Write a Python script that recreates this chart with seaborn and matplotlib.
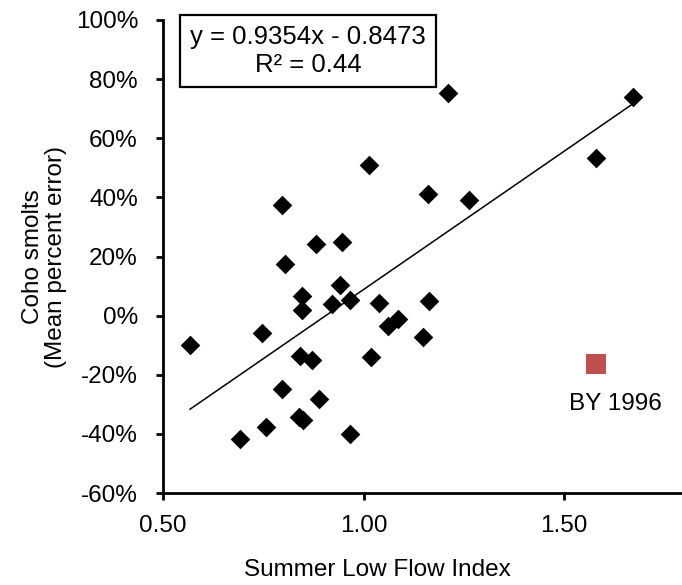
import matplotlib
matplotlib.use("Agg")
import matplotlib.pyplot as plt
import seaborn as sns
import numpy as np
import pandas as pd
from matplotlib.ticker import PercentFormatter, FixedLocator

# ---- data ----
flow_index = [1.014, 0.796, 0.881, 0.947, 0.804, 0.941, 0.846, 0.846, 0.922, 0.966,
              0.567, 0.746, 0.842, 0.871, 0.796, 0.889, 0.840, 0.850, 0.757, 0.692,
              0.966, 1.160, 1.263, 1.039, 1.163, 1.062, 1.087, 1.148, 1.018, 1.673,
              1.580, 1.210]
pct_error = [0.51, 0.375, 0.242, 0.249, 0.176, 0.105, 0.065, 0.020, 0.040, 0.053,
             -0.100, -0.059, -0.135, -0.149, -0.248, -0.282, -0.342, -0.354, -0.377, -0.419,
             -0.399, 0.411, 0.392, 0.043, 0.048, -0.034, -0.011, -0.072, -0.140, 0.741,
             0.533, 0.752]
outlier_x = [1.579]
outlier_y = [-0.163]
outlier_label = "BY 1996"
slope, intercept = 0.9354, -0.8473
r_squared = 0.44
x_ticks = [0.50, 1.00, 1.50]
y_ticks = [1.0, 0.8, 0.6, 0.4, 0.2, 0.0, -0.2, -0.4, -0.6]
x_label = "Summer Low Flow Index"
y_label = "Coho smolts\n(Mean percent error)"

sns.set_style("ticks")
plt.rcParams["font.family"] = ["Liberation Sans", "DejaVu Sans"]
plt.rcParams["axes.unicode_minus"] = False
plt.rcParams["text.color"] = "black"
plt.rcParams["axes.labelcolor"] = "black"

W, H = 682, 585
fig = plt.figure(figsize=(W / 100, H / 100), dpi=100)
ax = fig.add_axes([163 / W, 1 - 493 / H, (681 - 163) / W, (493 - 20) / H])

df = pd.DataFrame({"x": flow_index, "y": pct_error})
sns.scatterplot(data=df, x="x", y="y", ax=ax, marker="D", s=100, color="black",
                edgecolor="black", linewidth=0, zorder=3)
odf = pd.DataFrame({"x": outlier_x, "y": outlier_y})
sns.scatterplot(data=odf, x="x", y="y", ax=ax, marker="s", s=200, color="#C0504D",
                edgecolor="#C0504D", linewidth=0, zorder=3)

# trend line from the equation over the data range
xl = np.array([min(flow_index), max(flow_index)])
sns.lineplot(x=xl, y=slope * xl + intercept, ax=ax, color="black", linewidth=1.1, zorder=2)

ax.text(outlier_x[0] + 0.048, outlier_y[0] - 0.135, outlier_label, ha="center", va="center",
        fontsize=17.5, color="black")

ax.set_xlim(0.5, 0.5 + (681 - 163) / 401)
ax.set_ylim(-0.6, 1.0)
ax.xaxis.set_major_locator(FixedLocator(x_ticks))
ax.set_xticklabels([f"{t:.2f}" for t in x_ticks])
ax.yaxis.set_major_locator(FixedLocator(y_ticks))
ax.yaxis.set_major_formatter(PercentFormatter(1.0, decimals=0))

for side in ["top", "right"]:
    ax.spines[side].set_visible(False)
for side in ["left", "bottom"]:
    ax.spines[side].set_linewidth(2)
    ax.spines[side].set_color("black")
ax.tick_params(axis="both", direction="out", length=5, width=2, colors="black",
               labelsize=17.5)
ax.tick_params(axis="y", pad=13)
ax.tick_params(axis="x", pad=11)

ax.set_xlabel(x_label, fontsize=17.5)
ax.xaxis.set_label_coords((377 - 163) / 518, -(559 - 493) / 473)
ax.set_ylabel(y_label, fontsize=17.5, labelpad=6, linespacing=1.1)

fig.text(308 / W, 1 - 51 / H, f"y = {slope}x - {abs(intercept)}\nR² = {r_squared}",
         ha="center", va="center", fontsize=18.5, linespacing=1.2, color="black",
         bbox=dict(boxstyle="square,pad=0.4", facecolor="white", edgecolor="black",
                   linewidth=1.6))

fig.savefig("out.png", dpi=100, facecolor="white")
